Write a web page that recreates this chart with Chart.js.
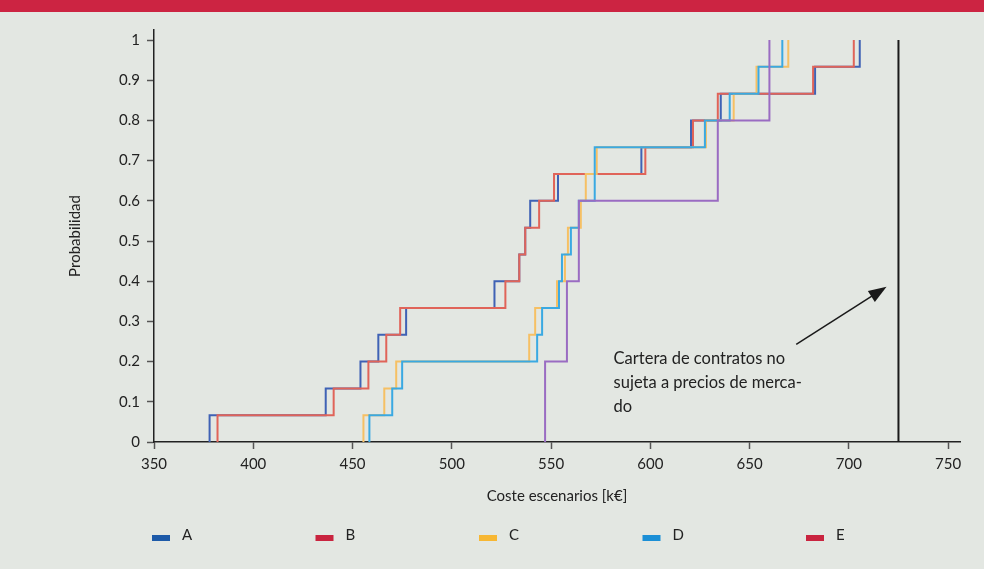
<!DOCTYPE html>
<html>
<head>
<meta charset="utf-8">
<script src="https://cdn.jsdelivr.net/npm/chart.js@4.4.1/dist/chart.umd.min.js"></script>
<style>
  html, body { margin: 0; padding: 0; background: #e3e7e2; }
  #band { position: absolute; left: 0; top: 0; width: 984px; height: 12px; background: #cc2442; }
  #wrap { position: absolute; left: 0; top: 0; width: 984px; height: 569px; }
</style>
</head>
<body>
<div id="band"></div>
<div id="wrap"><canvas id="chartCoste"></canvas></div>
<script>
// scenario costs (k€), sorted, one per step of the cumulative curve
const seriesNames = ["A", "B", "C", "D", "E"];
const costA = [378, 436.5, 454, 463, 477, 521.5, 534, 537, 539.5, 553.5, 595.5, 620.5, 635.5, 683, 705.5];
const costB = [382, 440.5, 458, 467, 474, 527, 534, 537, 544, 551.5, 597.5, 621.5, 634, 682, 702.5];
const costC = [455.5, 466, 472, 539, 542, 553, 557, 558.5, 565, 567.5, 573, 628, 642, 653.5, 669.5];
const costD = [458.5, 470, 475, 543, 545.5, 554, 555.5, 560, 564, 572, 572, 627.5, 640, 654.5, 666.5];
const costE = [547, 547, 547, 558, 558, 558, 564, 564, 564, 634, 634, 634, 660, 660, 660];
const probLevels = [0, 0.0667, 0.1333, 0.2, 0.2667, 0.3333, 0.4, 0.4667, 0.5333, 0.6, 0.6667, 0.7333, 0.8, 0.8667, 0.9333, 1];
const limiteCartera = 725;
const xTicks = [350, 400, 450, 500, 550, 600, 650, 700, 750];
const yTicks = [0, 0.1, 0.2, 0.3, 0.4, 0.5, 0.6, 0.7, 0.8, 0.9, 1];
const notaLineas = ["Cartera de contratos no", "sujeta a precios de merca-", "do"];

const lineColors = ["#3f62b5", "#e06459", "#f6c064", "#3aa9e2", "#9a6cc2"];
const legendColors = ["#1d5aa8", "#c9243f", "#f7b733", "#1b8fd6", "#c9243f"];
const FONT = "Lato, 'Open Sans', sans-serif";

function cdf(costs) {
  const pts = [{ x: costs[0], y: probLevels[0] }];
  costs.forEach((c, i) => pts.push({ x: c, y: probLevels[i + 1] }));
  return pts;
}

const allCosts = [costA, costB, costC, costD, costE];
const datasets = allCosts.map((costs, i) => ({
  label: seriesNames[i],
  data: cdf(costs),
  stepped: true,
  borderColor: lineColors[i],
  borderWidth: 2,
  pointRadius: 0,
  fill: false,
  order: 10 - i,
}));
datasets.push({
  label: "limite",
  data: [{ x: limiteCartera, y: 0 }, { x: limiteCartera, y: 1 }],
  borderColor: "#1a1a1a",
  borderWidth: 2,
  pointRadius: 0,
  order: 0,
});

const notaPlugin = {
  id: "nota",
  afterDatasetsDraw(chart) {
    const { ctx, scales: { x, y } } = chart;
    ctx.save();
    // arrow
    const x0 = x.getPixelForValue(673.5), y0 = y.getPixelForValue(0.243);
    const x1 = x.getPixelForValue(719), y1 = y.getPixelForValue(0.386);
    const ang = Math.atan2(y1 - y0, x1 - x0);
    ctx.strokeStyle = "#1a1a1a";
    ctx.fillStyle = "#1a1a1a";
    ctx.lineWidth = 1.5;
    ctx.beginPath();
    ctx.moveTo(x0, y0);
    ctx.lineTo(x1 - 10 * Math.cos(ang), y1 - 10 * Math.sin(ang));
    ctx.stroke();
    ctx.beginPath();
    ctx.moveTo(x1, y1);
    ctx.lineTo(x1 - 18 * Math.cos(ang) + 6.5 * Math.sin(ang), y1 - 18 * Math.sin(ang) - 6.5 * Math.cos(ang));
    ctx.lineTo(x1 - 18 * Math.cos(ang) - 6.5 * Math.sin(ang), y1 - 18 * Math.sin(ang) + 6.5 * Math.cos(ang));
    ctx.closePath();
    ctx.fill();
    // text
    ctx.font = "16.5px " + FONT;
    ctx.fillStyle = "#222";
    ctx.textBaseline = "middle";
    const tx = x.getPixelForValue(581.5), ty = y.getPixelForValue(0.2065);
    notaLineas.forEach((t, i) => ctx.fillText(t, tx, ty + i * 24));
    ctx.restore();
  },
};

const legendPlugin = {
  id: "filaLeyenda",
  afterDraw(chart) {
    const ctx = chart.ctx;
    ctx.save();
    ctx.font = "15px " + FONT;
    ctx.textBaseline = "middle";
    seriesNames.forEach((name, i) => {
      const lx = 152 + i * 163.5;
      ctx.fillStyle = legendColors[i];
      ctx.fillRect(lx, 535, 18, 6);
      ctx.fillStyle = "#222";
      ctx.fillText(name, lx + 30, 535);
    });
    ctx.restore();
  },
};

const config = {
  type: "line",
  data: { datasets },
  options: {
    responsive: true,
    maintainAspectRatio: false,
    animation: false,
    layout: { padding: { left: 62, right: 24, top: 30, bottom: 60 } },
    plugins: { legend: { display: false }, tooltip: { enabled: false } },
    scales: {
      x: {
        type: "linear",
        min: 350,
        max: 756,
        afterBuildTicks: (s) => { s.ticks = xTicks.map((v) => ({ value: v })); },
        afterFit: (s) => { s.height = 67; },
        ticks: { color: "#222", font: { family: FONT, size: 15 }, padding: 6 },
        grid: { drawOnChartArea: false, tickLength: 7, tickColor: "#555", tickWidth: 1.5 },
        border: { color: "#222", width: 1.5 },
        title: { display: true, text: "Coste escenarios [k€]", color: "#222", font: { family: FONT, size: 15 }, padding: 4 },
      },
      y: {
        type: "linear",
        min: 0,
        max: 1.025,
        afterBuildTicks: (s) => { s.ticks = yTicks.map((v) => ({ value: v })); },
        afterFit: (s) => { s.width = 92; },
        ticks: { color: "#222", font: { family: FONT, size: 15 }, padding: 7, callback: (v) => String(v) },
        grid: { drawOnChartArea: false, tickLength: 7, tickColor: "#555", tickWidth: 1.5 },
        border: { color: "#222", width: 1.5 },
        title: { display: true, text: "Probabilidad", color: "#222", font: { family: FONT, size: 15 }, padding: 4 },
      },
    },
  },
  plugins: [notaPlugin, legendPlugin],
};

const chartCoste = new Chart(document.getElementById("chartCoste"), config);
</script>
</body>
</html>
